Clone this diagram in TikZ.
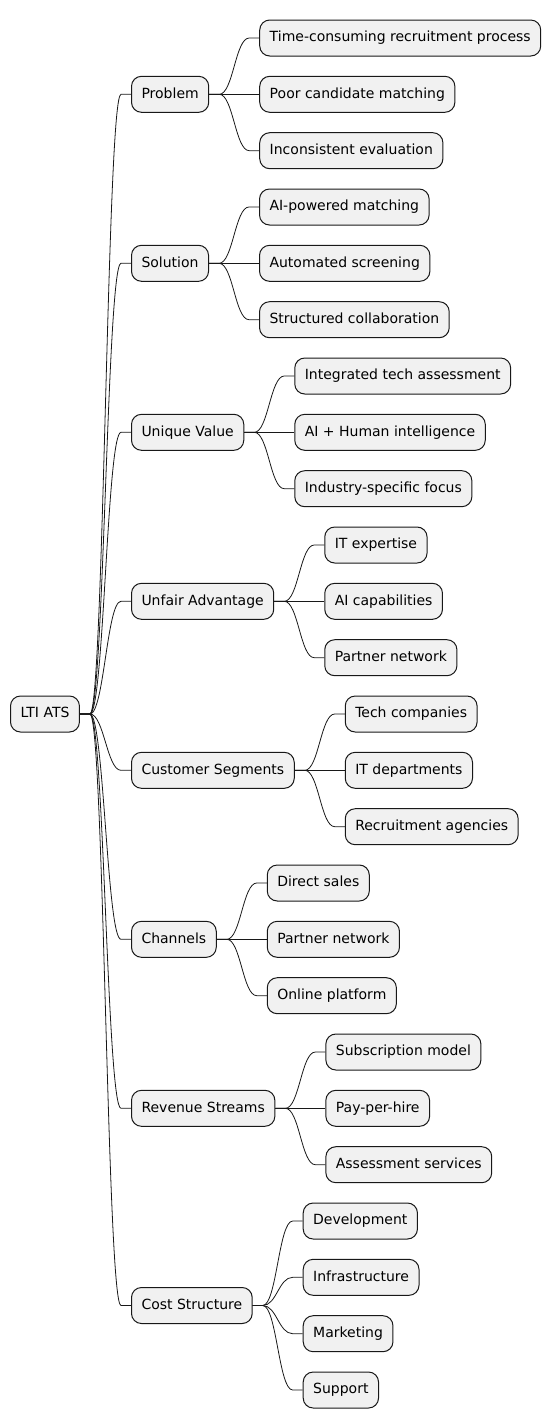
\documentclass[tikz,border=0pt]{standalone}
\usepackage{fontspec}
\setmainfont{DejaVu Sans}
\definecolor{boxfill}{HTML}{F1F1F1}
\definecolor{boxline}{HTML}{181818}
\tikzset{
  box/.style={draw=boxline, fill=boxfill, line width=1pt, rounded corners=10pt,
    minimum height=36pt, inner xsep=10pt, inner ysep=0pt, anchor=west,
    font=\fontsize{14pt}{16pt}\selectfont, text height=10.5pt, text depth=3pt},
  link/.style={draw=boxline, line width=0.8pt}
}
\newcommand\conn[2]{\draw[link] (#1.east) -- ([xshift=10pt]#1.east) .. controls ([xshift=24pt]#1.east) and ([xshift=-24pt]#2.west) .. ([xshift=-10pt]#2.west) -- (#2.west);}
\newcommand\leaf[4]{\node[box] (#1) at ([xshift=50pt]#2.east |- 0,#3) {#4};}
\begin{document}
\begin{tikzpicture}[x=1pt,y=1pt]
\useasboundingbox (0,0) rectangle (552,-1428);
\node[box] (root) at (10,-714) {LTI ATS};
% first level
\node[box] (p1) at (131,-94.3) {Problem};
\node[box] (p2) at (131,-263.3) {Solution};
\node[box] (p3) at (131,-432.3) {Unique Value};
\node[box] (p4) at (131,-601.3) {Unfair Advantage};
\node[box] (p5) at (131,-770.3) {Customer Segments};
\node[box] (p6) at (131,-939.3) {Channels};
\node[box] (p7) at (131,-1108.3) {Revenue Streams};
\node[box] (p8) at (131,-1305.5) {Cost Structure};
% leaves
\leaf{l1}{p1}{-38}{Time-consuming recruitment process}
\leaf{l2}{p1}{-94.3}{Poor candidate matching}
\leaf{l3}{p1}{-150.7}{Inconsistent evaluation}
\leaf{l4}{p2}{-207}{AI-powered matching}
\leaf{l5}{p2}{-263.3}{Automated screening}
\leaf{l6}{p2}{-319.7}{Structured collaboration}
\leaf{l7}{p3}{-376}{Integrated tech assessment}
\leaf{l8}{p3}{-432.3}{AI + Human intelligence}
\leaf{l9}{p3}{-488.7}{Industry-specific focus}
\leaf{l10}{p4}{-545}{IT expertise}
\leaf{l11}{p4}{-601.3}{AI capabilities}
\leaf{l12}{p4}{-657.7}{Partner network}
\leaf{l13}{p5}{-714}{Tech companies}
\leaf{l14}{p5}{-770.3}{IT departments}
\leaf{l15}{p5}{-826.7}{Recruitment agencies}
\leaf{l16}{p6}{-883}{Direct sales}
\leaf{l17}{p6}{-939.3}{Partner network}
\leaf{l18}{p6}{-995.7}{Online platform}
\leaf{l19}{p7}{-1052}{Subscription model}
\leaf{l20}{p7}{-1108.3}{Pay-per-hire}
\leaf{l21}{p7}{-1164.7}{Assessment services}
\leaf{l22}{p8}{-1221}{Development}
\leaf{l23}{p8}{-1277.3}{Infrastructure}
\leaf{l24}{p8}{-1333.7}{Marketing}
\leaf{l25}{p8}{-1390}{Support}
% connectors
\foreach \p in {p1,p2,p3,p4,p5,p6,p7,p8} {\conn{root}{\p}}
\foreach \c in {l1,l2,l3} {\conn{p1}{\c}}
\foreach \c in {l4,l5,l6} {\conn{p2}{\c}}
\foreach \c in {l7,l8,l9} {\conn{p3}{\c}}
\foreach \c in {l10,l11,l12} {\conn{p4}{\c}}
\foreach \c in {l13,l14,l15} {\conn{p5}{\c}}
\foreach \c in {l16,l17,l18} {\conn{p6}{\c}}
\foreach \c in {l19,l20,l21} {\conn{p7}{\c}}
\foreach \c in {l22,l23,l24,l25} {\conn{p8}{\c}}
\end{tikzpicture}
\end{document}
